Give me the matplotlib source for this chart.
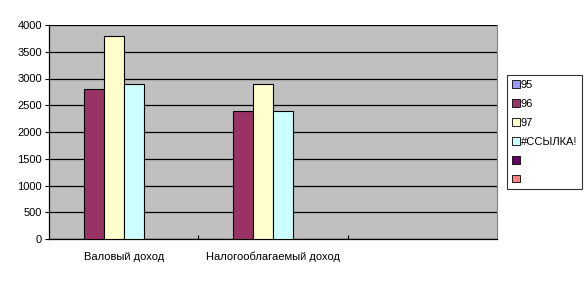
import numpy as np
import matplotlib
matplotlib.use("Agg")
import matplotlib.pyplot as plt
from matplotlib.patches import Patch

plt.rcParams['font.family'] = ['Liberation Sans', 'DejaVu Sans']

# data
categories = ['Валовый доход', 'Налогооблагаемый доход', '']
series_names = ['95', '96', '97', '#ССЫЛКА!', '', '']
s95 = [0, 0, 0]
s96 = [2800, 2400, 0]
s97 = [3800, 2900, 0]
s_ref = [2900, 2400, 0]
s5 = [0, 0, 0]
s6 = [0, 0, 0]
series_values = [s95, s96, s97, s_ref, s5, s6]
colors = ['#9999FF', '#993366', '#FFFFCC', '#CCFFFF', '#660066', '#FF8080']
yticks = [0, 500, 1000, 1500, 2000, 2500, 3000, 3500, 4000]

fig = plt.figure(figsize=(5.88, 2.81), dpi=100)
ax = fig.add_axes([49 / 588, 1 - 239 / 281, 448 / 588, 214 / 281])
ax.set_facecolor('#C0C0C0')

n = len(series_values)
w = 1.0 / (n + 1.5)  # excel gap width 150%
x = np.arange(len(categories))
for i, (vals, c) in enumerate(zip(series_values, colors)):
    vals = np.array(vals)
    mask = vals > 0
    ax.bar(x[mask] + (i - (n - 1) / 2) * w, vals[mask], width=w, color=c,
           edgecolor='black', linewidth=0.8, zorder=3)

ax.set_xlim(-0.5, len(categories) - 0.5)
ax.set_ylim(0, 4000)
ax.set_yticks(yticks)
ax.yaxis.grid(True, color='black', linewidth=0.9, zorder=1)
ax.set_axisbelow(True)
ax.tick_params(axis='y', length=3, width=0.8, labelsize=8, pad=2)

ax.set_xticks(x)
ax.set_xticklabels(categories, fontsize=8)
ax.set_xticks(np.arange(0.5, len(categories) - 0.5), minor=True)
ax.tick_params(axis='x', which='major', length=0, pad=9)
ax.tick_params(axis='x', which='minor', direction='in', length=3, width=0.8)

ax.spines['top'].set_visible(False)
ax.spines['right'].set_color('#808080')
ax.spines['left'].set_linewidth(0.9)
ax.spines['bottom'].set_linewidth(0.9)

handles = [Patch(facecolor=c, edgecolor='black', linewidth=0.6) for c in colors]
leg = fig.legend(handles, series_names, loc='upper left',
                 bbox_to_anchor=(507 / 588, 1 - 75 / 281), borderaxespad=0,
                 fontsize=8, frameon=True, fancybox=False, edgecolor='black',
                 handlelength=0.7, handleheight=0.7, handletextpad=0.1,
                 labelspacing=0.8, borderpad=0.45)
leg.get_frame().set_linewidth(0.8)

fig.savefig('out.png', dpi=100)
